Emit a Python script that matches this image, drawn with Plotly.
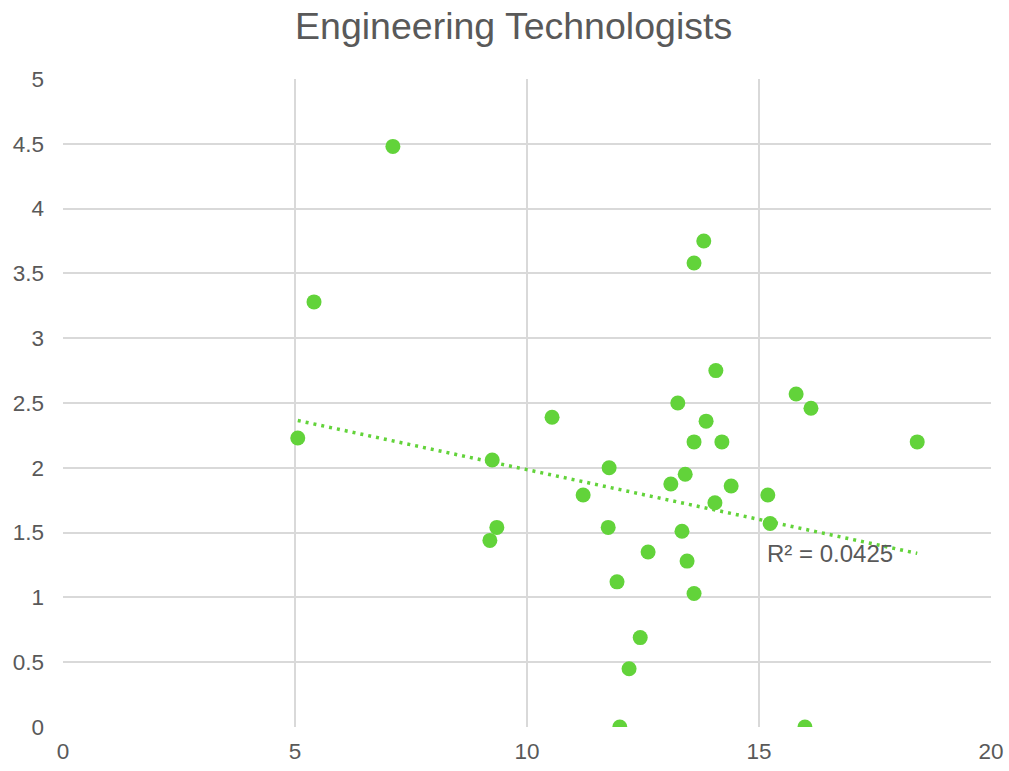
import plotly.graph_objects as go

x_vals = [7.11, 5.41, 5.06, 9.25, 9.20, 9.35, 10.54, 11.21, 11.77, 11.75, 11.94, 12.0,
          12.2, 12.44, 12.61, 13.10, 13.25, 13.34, 13.41, 13.45, 13.60, 13.60, 13.60,
          13.81, 13.86, 14.05, 14.07, 14.20, 14.40, 15.19, 15.24, 15.80, 16.12, 15.99, 18.41]
y_vals = [4.48, 3.28, 2.23, 2.06, 1.44, 1.54, 2.39, 1.79, 2.00, 1.54, 1.12, 0.0,
          0.45, 0.69, 1.35, 1.875, 2.50, 1.51, 1.95, 1.28, 3.58, 2.20, 1.03,
          3.75, 2.36, 1.73, 2.75, 2.20, 1.86, 1.79, 1.57, 2.57, 2.46, 0.0, 2.20]
# linear trendline (endpoints)
trend_x = [5.06, 18.41]
trend_y = [2.365, 1.34]
r2_label = "R² = 0.0425"
title_text = "Engineering Technologists"

FONT = "Liberation Sans, Arial, sans-serif"
GREY = "#595959"
green = "#62D33A"

fig = go.Figure()
fig.add_trace(go.Scatter(x=trend_x, y=trend_y, mode="lines",
                         line=dict(color=green, width=3.5, dash="3px,5px"),
                         hoverinfo="skip", showlegend=False))
fig.add_trace(go.Scatter(x=x_vals, y=y_vals, mode="markers",
                         marker=dict(color=green, size=15, line=dict(width=0)),
                         showlegend=False))
fig.add_annotation(x=15.13, y=1.34, text=r2_label,
                   showarrow=False, xanchor="left", yanchor="middle",
                   font=dict(size=24, color=GREY, family=FONT))

fig.update_layout(
    width=1009, height=771,
    margin=dict(l=63, r=18, t=79, b=44, autoexpand=False),
    paper_bgcolor="white", plot_bgcolor="white",
    title=dict(text=title_text, x=0.509, xanchor="center", y=0.966, yanchor="middle",
               font=dict(size=37.5, color=GREY, family=FONT)),
    font=dict(family=FONT, color=GREY, size=22),
    xaxis=dict(range=[0, 20], dtick=5, showgrid=True, gridcolor="#D9D9D9", gridwidth=1.6,
               zeroline=False, showline=False, ticks="", ticklabelstandoff=8,
               tickfont=dict(size=22.5, color=GREY, family=FONT)),
    yaxis=dict(range=[0, 5], dtick=0.5, showgrid=True, gridcolor="#D9D9D9", gridwidth=1.6,
               zeroline=False, showline=False, ticks="", ticklabelstandoff=18,
               tickfont=dict(size=22.5, color=GREY, family=FONT)),
)
fig.write_html("out.html", config={"displayModeBar": False},
               post_script="document.body.style.margin='0';document.body.style.overflow='hidden';")
